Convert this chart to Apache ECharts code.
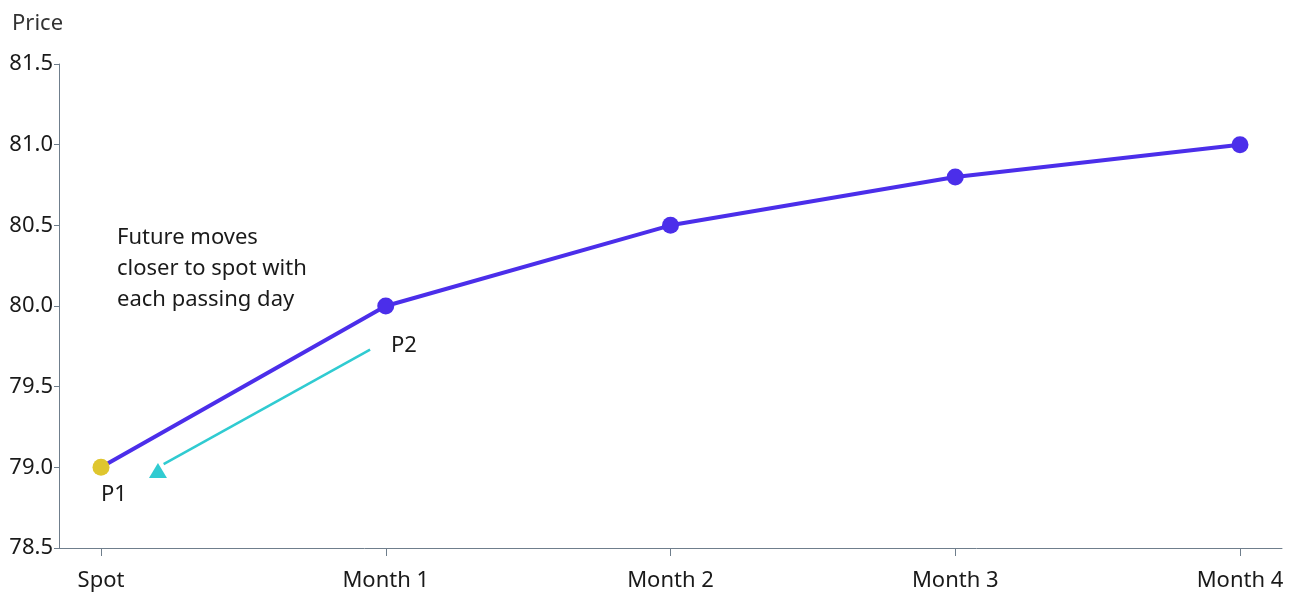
<!DOCTYPE html>
<html>
<head>
<meta charset="utf-8">
<script src="https://cdn.jsdelivr.net/npm/echarts@6/dist/echarts.min.js"></script>
<style>
  html, body { margin: 0; padding: 0; background: #fff; }
  #chart { width: 1293px; height: 593px; }
</style>
</head>
<body>
<div id="chart"></div>
<script>
// 数据
var categories = ["Spot", "Month 1", "Month 2", "Month 3", "Month 4"];
var prices = [79.0, 80.0, 80.5, 80.8, 81.0];
var yTicks = [78.5, 79.0, 79.5, 80.0, 80.5, 81.0, 81.5];
// 箭头起止 (x 为类目序号, y 为价格)
var arrowFrom = [0.945, 79.73];
var arrowTo = [0.2, 78.98];

var FONT = "Noto Sans";
var FS = 22;
var chart = echarts.init(document.getElementById("chart"));

var lineData = prices.map(function (v, i) {
  var item = { value: [i, v] };
  if (i === 0) item.itemStyle = { color: "#DFC62E" };
  return item;
});

chart.setOption({
  animation: false,
  textStyle: { fontFamily: FONT },
  grid: { left: 59, right: 11, top: 64, bottom: 45 },
  xAxis: {
    type: "value",
    min: -0.1475,
    max: 4.1475,
    splitLine: { show: false },
    axisLine: { onZero: false, lineStyle: { color: "#6F7E8C", width: 1 } },
    axisTick: {
      show: true,
      customValues: [0, 1, 2, 3, 4],
      length: 8,
      lineStyle: { color: "#6F7E8C" }
    },
    axisLabel: {
      customValues: [0, 1, 2, 3, 4],
      formatter: function (v) { return categories[Math.round(v)]; },
      color: "#1a1a1a",
      fontSize: FS,
      margin: 22,
      fontFamily: FONT
    }
  },
  yAxis: {
    type: "value",
    min: yTicks[0],
    max: yTicks[yTicks.length - 1],
    interval: 0.5,
    splitLine: { show: false },
    axisLine: { show: true, onZero: false, lineStyle: { color: "#6F7E8C", width: 1 } },
    axisTick: { show: true, length: 5, lineStyle: { color: "#6F7E8C" } },
    axisLabel: {
      formatter: function (v) { return v.toFixed(1); },
      color: "#1a1a1a",
      fontSize: FS,
      margin: 6,
      fontFamily: FONT
    }
  },
  graphic: [
    { type: "text", left: 12, top: 13,
      style: { text: "Price", fontSize: FS, fill: "#333", fontFamily: FONT } },
    { type: "text", left: 117, top: 222,
      style: { text: "Future moves\ncloser to spot with\neach passing day",
               fontSize: FS, lineHeight: 31, fill: "#1a1a1a", fontFamily: FONT } },
    { type: "text", left: 391, top: 335,
      style: { text: "P2", fontSize: FS, fill: "#1a1a1a", fontFamily: FONT } },
    { type: "text", left: 101, top: 484,
      style: { text: "P1", fontSize: FS, fill: "#1a1a1a", fontFamily: FONT } }
  ],
  series: [
    {
      type: "line",
      data: lineData,
      symbol: "circle",
      symbolSize: 17,
      lineStyle: { color: "#4B2EEA", width: 4 },
      itemStyle: { color: "#4B2EEA" },
      z: 3
    },
    {
      type: "line",
      data: [],
      silent: true,
      markLine: {
        silent: true,
        symbol: ["none", "none"],
        lineStyle: { color: "#30CBD1", width: 2.5, type: "solid" },
        label: { show: false },
        data: [[{ coord: arrowFrom }, { coord: [arrowTo[0] + 0.02, arrowTo[1] + 0.04] }]]
      },
      markPoint: {
        silent: true,
        symbol: "triangle",
        symbolSize: [18, 15],
        itemStyle: { color: "#30CBD1" },
        label: { show: false },
        data: [{ coord: arrowTo }]
      }
    }
  ]
});
</script>
</body>
</html>
